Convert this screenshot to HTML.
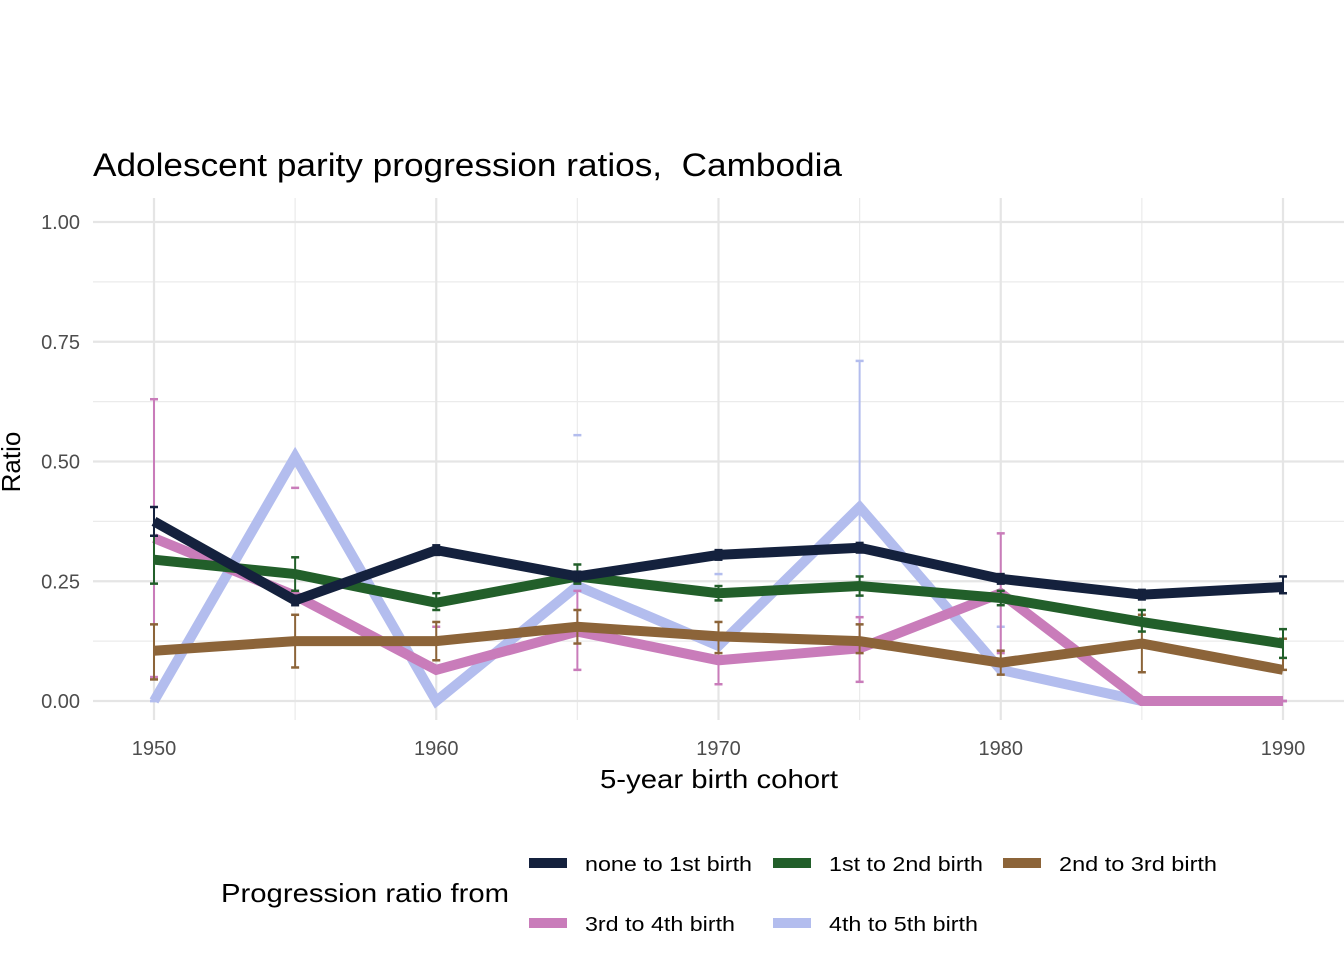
<!DOCTYPE html>
<html><head><meta charset="utf-8"><style>
body{margin:0;background:#fff;font-family:"Liberation Sans",Arial,sans-serif}
</style></head><body>
<svg id="chart" width="1344" height="960" xmlns="http://www.w3.org/2000/svg" font-family="Liberation Sans, Arial, sans-serif">
<text x="93" y="176" font-size="32" fill="#000" textLength="749" lengthAdjust="spacingAndGlyphs">Adolescent parity progression ratios,&#160; Cambodia</text>
<g id="grid"></g>
<g id="series"></g>
<text x="600" y="788" font-size="26" textLength="238" lengthAdjust="spacingAndGlyphs">5-year birth cohort</text>
<text transform="translate(20,462) rotate(-90)" font-size="26" text-anchor="middle">Ratio</text>
<text x="221" y="902" font-size="26" textLength="288" lengthAdjust="spacingAndGlyphs">Progression ratio from</text>
<g id="legend"></g>
</svg>
<script>
const years=[1950,1955,1960,1965,1970,1975,1980,1985,1990];
const names=["none to 1st birth","1st to 2nd birth","2nd to 3rd birth","3rd to 4th birth","4th to 5th birth"];
const colors=["#14213d","#225f2a","#8c6439","#c97cba","#b3bdee"];
const v0=[0.375,0.21,0.315,0.26,0.305,0.32,0.255,0.222,0.238];
const v1=[0.295,0.265,0.205,0.26,0.225,0.24,0.215,0.165,0.12];
const v2=[0.105,0.125,0.125,0.155,0.135,0.125,0.08,0.12,0.065];
const v3=[0.34,0.22,0.065,0.145,0.085,0.11,0.225,0,0];
const v4=[0,0.51,0,0.24,0.115,0.405,0.065,0,0];
const lo0=[0.345,0.2,0.305,0.25,0.295,0.31,0.245,0.212,0.225];
const hi0=[0.405,0.22,0.325,0.27,0.315,0.33,0.265,0.232,0.26];
const lo1=[0.245,0.23,0.19,0.245,0.21,0.22,0.2,0.145,0.09];
const hi1=[0.345,0.30,0.225,0.285,0.24,0.26,0.23,0.19,0.15];
const lo2=[0.045,0.07,0.085,0.12,0.1,0.1,0.055,0.06,0.065];
const hi2=[0.16,0.18,0.165,0.19,0.165,0.16,0.105,0.18,0.13];
const lo3=[0.05,null,null,0.065,0.035,0.04,0.1,0,0];
const hi3=[0.63,0.445,0.155,0.23,0.135,0.175,0.35,0,0];
const lo4=[0,null,null,null,null,0.105,null,0,0];
const hi4=[0,null,null,0.555,0.265,0.71,0.155,0,0];
const yTicks=[0,0.25,0.5,0.75,1];
const yTickLabels=["0.00","0.25","0.50","0.75","1.00"];
const xTicks=[1950,1960,1970,1980,1990];
const legendWidths=[167,154,158,150,149];
const vals=[v0,v1,v2,v3,v4],los=[lo0,lo1,lo2,lo3,lo4],his=[hi0,hi1,hi2,hi3,hi4];
const NS="http://www.w3.org/2000/svg";
const X=y=>154+(y-1950)*(1283-154)/40;
const Y=v=>701-v*479;
function mk(t,a,p){const e=document.createElementNS(NS,t);for(const k in a)e.setAttribute(k,a[k]);p.appendChild(e);return e;}
const grid=document.getElementById('grid');
for(let v=0.125;v<1;v+=0.25){const l=mk('line',{x1:93,x2:1344,y1:Y(v),y2:Y(v),stroke:'#ebebeb','stroke-width':1.2},grid);

}
for(const yr of [1955,1965,1975,1985]){const l=mk('line',{x1:X(yr),x2:X(yr),y1:198,y2:720,stroke:'#ebebeb','stroke-width':1.2},grid);

}
yTicks.forEach((v,i)=>{const l=mk('line',{x1:93,x2:1344,y1:Y(v),y2:Y(v),stroke:'#e5e5e5','stroke-width':2.2},grid);


const t=mk('text',{x:80,y:Y(v)+7,'font-size':20,fill:'#4d4d4d','text-anchor':'end'},grid);t.textContent=yTickLabels[i];

});
xTicks.forEach(v=>{const l=mk('line',{x1:X(v),x2:X(v),y1:198,y2:720,stroke:'#e5e5e5','stroke-width':2.2},grid);


const t=mk('text',{x:X(v),y:755,'font-size':20,fill:'#4d4d4d','text-anchor':'middle'},grid);t.textContent=v;

});
const ser=document.getElementById('series');
[4,3,2,1,0].forEach(s=>{
 const g=mk('g',{},ser);
 
 
 const pts=years.map((y,i)=>X(y)+','+Y(vals[s][i])).join(' ');
 const pl=mk('polyline',{points:pts,fill:'none',stroke:colors[s],'stroke-width':10,'stroke-linejoin':'miter'},g);
 
 
 years.forEach((y,i)=>{const lo=los[s][i],hi=his[s][i],x=X(y);
  if(lo!=null&&hi!=null){const e=mk('line',{x1:x,x2:x,y1:Y(lo),y2:Y(hi),stroke:colors[s],'stroke-width':2},g);
   
   }
  [lo,hi].forEach(v=>{if(v==null)return;const c=mk('line',{x1:x-4,x2:x+4,y1:Y(v),y2:Y(v),stroke:colors[s],'stroke-width':2.5},g);
   
   });
 });
});
const leg=document.getElementById('legend');
const pos=[[529,863],[773,863],[1003,863],[529,923],[773,923]];
names.forEach((n,i)=>{const g=mk('g',{},leg);
 
 
 mk('line',{x1:pos[i][0],x2:pos[i][0]+38,y1:pos[i][1],y2:pos[i][1],stroke:colors[i],'stroke-width':10},g);
 const t=mk('text',{x:pos[i][0]+56,y:pos[i][1]+8,'font-size':20,fill:'#000',textLength:legendWidths[i],lengthAdjust:'spacingAndGlyphs'},g);t.textContent=n;});
</script>
</body></html>
